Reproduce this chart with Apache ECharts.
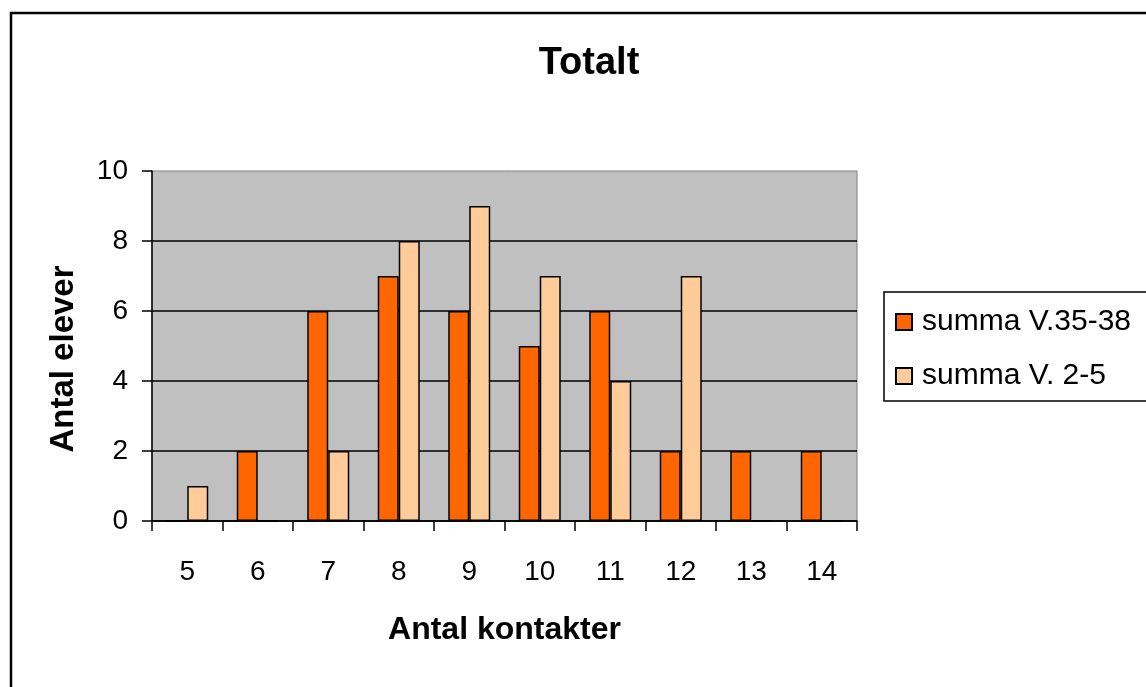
<!DOCTYPE html>
<html>
<head>
<meta charset="utf-8">
<script src="https://cdn.jsdelivr.net/npm/echarts@6/dist/echarts.min.js"></script>
<style>
  html, body { margin: 0; padding: 0; background: #fff; }
  #chart { width: 1146px; height: 687px; }
</style>
</head>
<body>
<div id="chart"></div>
<script>
// antal kontakter (x-axis categories)
const categories = ['5', '6', '7', '8', '9', '10', '11', '12', '13', '14']
const seriesNames = ['summa V.35-38', 'summa V. 2-5']
const v3538 = [0, 2, 6, 7, 6, 5, 6, 2, 2, 2]
const v25 = [1, 0, 2, 8, 9, 7, 4, 7, 0, 0]

const font = 'Liberation Sans, Arial, sans-serif'

let mychart = echarts.init(document.getElementById('chart'))
mychart.setOption({
  animation: false,
  title: {
    text: 'Totalt',
    left: 584,
    top: 40,
    textAlign: 'center',
    textStyle: { fontFamily: font, fontSize: 38, fontWeight: 'bold', color: '#000' },
  },
  graphic: [
    {
      type: 'rect',
      shape: { x: 11, y: 13, width: 1200, height: 720 },
      style: { fill: 'none', stroke: '#000', lineWidth: 2.5 },
      z: 0,
    },
  ],
  legend: {
    orient: 'vertical',
    left: 884,
    top: 292,
    padding: [15, 30, 10, 11],
    itemGap: 24,
    itemWidth: 16,
    itemHeight: 16,
    borderColor: '#000',
    borderWidth: 1.5,
    icon: 'rect',
    textStyle: { fontFamily: font, fontSize: 30, color: '#000', padding: [0, 0, 0, 5] },
  },
  grid: {
    left: 152,
    top: 171,
    width: 705,
    height: 350,
    show: true,
    backgroundColor: '#c0c0c0',
    borderColor: '#808080',
    borderWidth: 1,
  },
  xAxis: {
    type: 'category',
    data: categories,
    name: 'Antal kontakter',
    nameLocation: 'middle',
    nameGap: 93,
    nameTextStyle: { fontFamily: font, fontSize: 32, fontWeight: 'bold', color: '#000' },
    axisLine: { lineStyle: { color: '#000', width: 1.5 } },
    axisTick: { show: true, length: 10, lineStyle: { color: '#000', width: 1.5 } },
    axisLabel: { fontFamily: font, fontSize: 28, color: '#000', margin: 37 },
  },
  yAxis: {
    type: 'value',
    min: 0,
    max: 10,
    interval: 2,
    name: 'Antal elever',
    nameLocation: 'middle',
    nameGap: 72,
    nameTextStyle: { fontFamily: font, fontSize: 33, fontWeight: 'bold', color: '#000', padding: [0, 26, 0, 0] },
    axisLine: { show: true, lineStyle: { color: '#000', width: 1.5 } },
    axisTick: { show: true, length: 10, lineStyle: { color: '#000', width: 1.5 } },
    axisLabel: { fontFamily: font, fontSize: 28, color: '#000', margin: 24 },
    splitLine: { show: true, showMaxLine: false, lineStyle: { color: '#000', width: 1.5 } },
  },
  series: [
    {
      name: seriesNames[0],
      type: 'bar',
      data: v3538,
      barWidth: 21,
      barGap: '0%',
      itemStyle: { color: '#ff6600', borderColor: '#000', borderWidth: 1.5 },
    },
    {
      name: seriesNames[1],
      type: 'bar',
      data: v25,
      barWidth: 21,
      barGap: '0%',
      itemStyle: { color: '#ffcc99', borderColor: '#000', borderWidth: 1.5 },
    },
  ],
})
</script>
</body>
</html>
